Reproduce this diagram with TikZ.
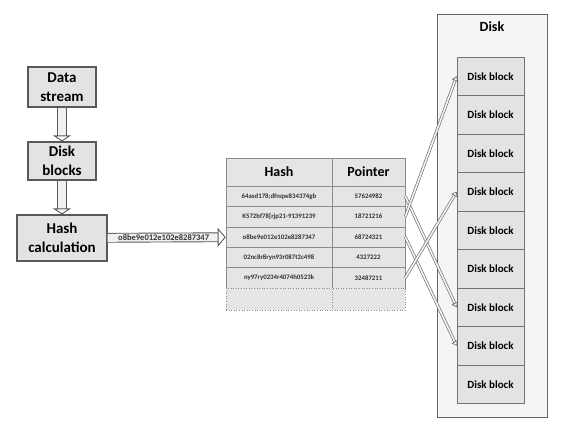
\documentclass[tikz,border=0pt]{standalone}
\usepackage{fontspec}
\setmainfont{Carlito}
\usetikzlibrary{arrows.meta,positioning}

\begin{document}
\begin{tikzpicture}[
  x=1pt,y=-1pt,
  font=\bfseries,
  box/.style={draw=black!65,fill=black!11,line width=1.1pt,align=center,
    inner sep=0pt,font=\fontsize{15}{19.5}\selectfont\bfseries},
  cell/.style={draw=black!45,fill=black!10,line width=0.6pt,inner sep=0pt,
    minimum height=20.4pt,font=\fontsize{6.8}{7}\selectfont\bfseries,text=black!80},
  blk/.style={draw=black!55,fill=black!11,line width=0.7pt,inner sep=0pt,
    minimum width=67pt,minimum height=38.5pt,font=\fontsize{11}{12}\selectfont\bfseries},
  fat/.style={draw=black!65,line width=0.9pt,double=black!6,double distance=7.5pt,
    -{Triangle[open,length=6pt,width=18pt]}},
  thin/.style={draw=black!60,line width=0.6pt,double=black!5,double distance=1.7pt,
    -{Triangle[open,length=4.5pt,width=7pt]}},
]
\useasboundingbox (0,0) rectangle (567,428);

% left column
\node[box,minimum width=68pt,minimum height=40pt] (ds) at (62,87) {Data\\stream};
\node[box,minimum width=68pt,minimum height=38pt] (db) at (62,161) {Disk\\blocks};
\node[box,minimum width=90pt,minimum height=46pt] (hc) at (62,238) {Hash\\calculation};
\draw[fat] (ds) -- (db);
\draw[fat] (db) -- (hc);

% table
\node[cell,minimum width=106pt,minimum height=28pt,font=\fontsize{14}{15}\selectfont\bfseries,text=black]
  (thh) at (279,172) {Hash};
\node[cell,minimum width=73pt,minimum height=28pt,font=\fontsize{14}{15}\selectfont\bfseries,text=black]
  (tph) at (368.5,172) {Pointer};
\foreach \h/\p [count=\i] in {{64asd178;dfnqw834374gb}/57624982,
    {K572bf78[rjp21-91391239}/18721216,
    {o8be9e012e102e8287347}/68724321,
    {02nc8r8ryn93r087t2c498}/4327222,
    {ny97ry0234r4074h0523k}/32487211} {
  \node[cell,minimum width=106pt] (th\i) at (279,175.8+20.4*\i) {\h};
  \node[cell,minimum width=73pt] (tp\i) at (368.5,175.8+20.4*\i) {\p};
}
\node[cell,dotted,minimum width=106pt,minimum height=22pt] (th6) at (279,299) {};
\node[cell,dotted,minimum width=73pt,minimum height=22pt] (tp6) at (368.5,299) {};

\draw[fat,double distance=8pt,-{Triangle[open,length=8pt,width=19pt]}] (hc) -- (th3)
  node[midway,xshift=-3pt,font=\fontsize{8.5}{9}\selectfont\bfseries,text=black!80] {o8be9e012e102e8287347};

% disk
\node[draw=black!60,fill=black!4,line width=0.8pt,minimum width=110pt,minimum height=403pt]
  (disk) at (492,215.5) {};
\node[font=\fontsize{14}{15}\selectfont\bfseries] (dl) at (492,27) {Disk};
\foreach \i in {1,...,9} {
  \node[blk] (db\i) at (490.5,37.75+38.5*\i) {Disk block};
}

\draw[thin] (tp1.east) -- (db7.west);
\draw[thin] (tp3.east) -- (db8.west);
\draw[thin] (tp2.east) -- (db1.west);
\draw[thin] (tp5.east) -- (db4.west);
\end{tikzpicture}
\end{document}
